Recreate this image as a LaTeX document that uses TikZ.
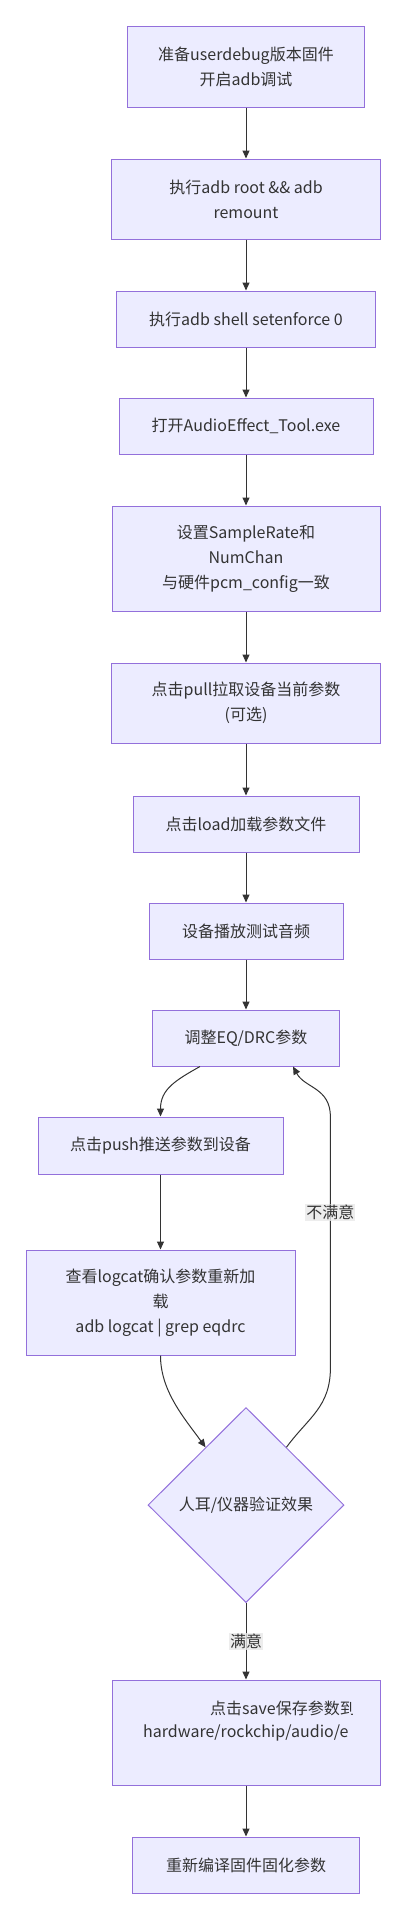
\documentclass[tikz,border=0pt]{standalone}
\usepackage{fontspec}
\setmainfont{Noto Sans CJK SC}
\usepackage{tikz}
\usetikzlibrary{arrows.meta,shapes.geometric}

\definecolor{boxfill}{HTML}{ECECFF}
\definecolor{boxline}{HTML}{9370DB}
\definecolor{ink}{HTML}{333333}
\definecolor{lblfill}{HTML}{E8E8E8}

\begin{document}
\begin{tikzpicture}[x=1pt, y=-1pt, >={Triangle[length=8pt,width=7pt]},
  box/.style={draw=boxline, fill=boxfill, line width=1pt, inner sep=0pt,
    align=center, text=ink, font=\fontsize{16pt}{25pt}\selectfont},
  dec/.style={box, diamond},
  lbl/.style={fill=lblfill, fill opacity=0.8, text opacity=1, text=ink,
    inner sep=1pt, font=\fontsize{16pt}{20pt}\selectfont},
  edge/.style={draw=ink, line width=1pt}]
\useasboundingbox (0,0) rectangle (407,1920);

\draw (246,66.5) node[box, minimum width=237, minimum height=81] (prep)
  {准备userdebug版本固件\\开启adb调试};
%% root
\draw (prep) ++(0,132.5) node[box, minimum width=269, minimum height=80] (root)
  {执行adb root \&\& adb\\remount};
\path[edge, ->] (prep) -- (root);
%% selinux
\draw (root) ++(0,120) node[box, minimum width=259, minimum height=56] (perm)
  {执行adb shell setenforce 0};
\path[edge, ->] (root) -- (perm);
%% tool
\draw (perm) ++(0,107) node[box, minimum width=254, minimum height=56] (tool)
  {打开AudioEffect\_Tool.exe};
\path[edge, ->] (perm) -- (tool);
%% rate
\draw (tool) ++(0,132.5) node[box, minimum width=268, minimum height=105] (rate)
  {设置SampleRate和\\NumChan\\与硬件pcm\_config一致};
\path[edge, ->] (tool) -- (rate);
%% pull
\draw (rate) ++(0,144.5) node[box, minimum width=269, minimum height=80] (pull)
  {点击pull拉取设备当前参数\\(可选)};
\path[edge, ->] (rate) -- (pull);
%% load
\draw (pull) ++(0,121) node[box, minimum width=226, minimum height=56] (load)
  {点击load加载参数文件};
\path[edge, ->] (pull) -- (load);
%% play
\draw (load) ++(0,107) node[box, minimum width=194, minimum height=56] (play)
  {设备播放测试音频};
\path[edge, ->] (load) -- (play);
%% tune
\draw (play) ++(0,107) node[box, minimum width=187, minimum height=56] (tune)
  {调整EQ/DRC参数};
\path[edge, ->] (play) -- (tune);

%%%%%%%%%%%%%%%%%%%%%% Loop

\draw (tune) ++(-85.5,107.5) node[box, minimum width=245, minimum height=57] (push)
  {点击push推送参数到设备};
\path[edge, ->] ([xshift=-46pt]tune.south) .. controls +(-25,14) and +(0,-27) ..
  (push.north);
%% logcat
\draw (push) ++(0,157) node[box, minimum width=269, minimum height=105] (log)
  {查看logcat确认参数重新加\\载\\adb logcat | grep eqdrc};
\path[edge, ->] (push) -- (log);
%% check
\draw (log) ++(85.5,202.5) node[dec, minimum width=196, minimum height=195] (chk)
  {人耳/仪器验证效果};
\path[edge, ->] (log.south) .. controls +(0,35) and +(-22,-30) .. (chk.125);
\path[edge, ->] (chk.55) .. controls +(22,-30) and +(0,40) .. ++(44,-80)
  -- node[lbl, pos=0.62] {不满意} ++(0,-250)
  .. controls +(0,-30) and +(12,22) .. ([xshift=47pt]tune.south);

%%%%%%%%%%%%%%%%%%%%%% Save

\draw (chk) ++(0,227.5) node[box, minimum width=268, minimum height=105] (save) {};
\path[edge, ->] (chk) -- node[lbl] {满意} (save);
\begin{scope}
  \clip ([xshift=31pt]save.south west) rectangle ([xshift=-28pt]save.north east);
  \path (save) ++(-36,-24.5) node[anchor=west, text=ink, inner sep=0pt,
    font=\fontsize{16pt}{20pt}\selectfont] (savea) {点击save保存参数到};
  \path (save) ++(-103,0.5) node[anchor=west, text=ink, inner sep=0pt,
    font=\fontsize{16pt}{20pt}\selectfont] (saveb) {hardware/rockchip/audio/e};
\end{scope}
%% build
\draw (save) ++(0,132.5) node[box, minimum width=227, minimum height=56] (build)
  {重新编译固件固化参数};
\path[edge, ->] (save) -- (build);
\end{tikzpicture}
\end{document}
